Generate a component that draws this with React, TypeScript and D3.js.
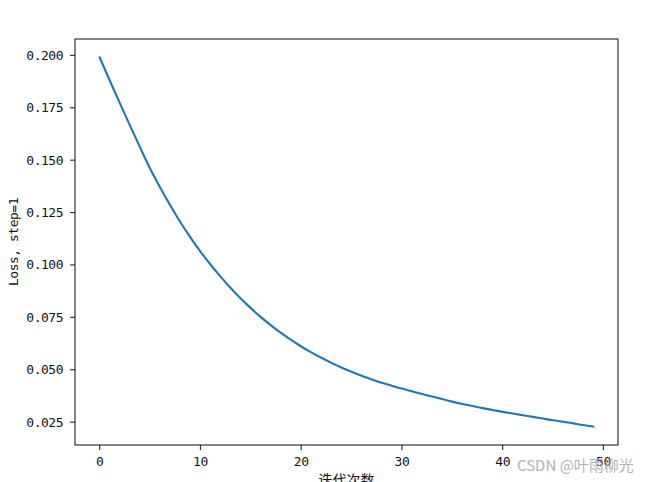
import React from "react";
import * as d3 from "d3";

const iterations: number[] = Array.from({ length: 50 }, (_, i) => i);
const lossValues: number[] = [
  0.199, 0.188, 0.1772, 0.1666, 0.1562, 0.146, 0.137, 0.1285, 0.1205, 0.1132,
  0.1064, 0.1002, 0.0944, 0.089, 0.084, 0.0794, 0.0751, 0.0712, 0.0676, 0.0642,
  0.0611, 0.0583, 0.0557, 0.0533, 0.0511, 0.049, 0.0471, 0.0454, 0.0438, 0.0424,
  0.041, 0.0397, 0.0384, 0.0372, 0.036, 0.0348, 0.0337, 0.0327, 0.0317, 0.0308,
  0.0299, 0.0291, 0.0283, 0.0275, 0.0267, 0.0259, 0.0252, 0.0244, 0.0236, 0.0229,
];
const xTicks: number[] = [0, 10, 20, 30, 40, 50];
const yTicks: number[] = [0.025, 0.05, 0.075, 0.1, 0.125, 0.15, 0.175, 0.2];
const xLabel = "迭代次数";
const yLabel = "Loss, step=1";
const watermark = "CSDN @叶雨柳光";

const W = 650;
const H = 482;
const L = 75;
const R = 618;
const T = 39;
const B = 445;

export default function App() {
  const xMin = d3.min(iterations)!;
  const xMax = d3.max(iterations)!;
  const xPad = (xMax - xMin) * 0.05;
  const x = d3.scaleLinear().domain([xMin - xPad, xMax + xPad]).range([L, R]);
  const [yMin, yMax] = d3.extent(lossValues) as [number, number];
  const yPad = (yMax - yMin) * 0.05;
  const y = d3.scaleLinear().domain([yMin - yPad, yMax + yPad]).range([B, T]);

  const line = d3
    .line<number>()
    .x((_, i) => x(iterations[i]))
    .y((d) => y(d))
    .curve(d3.curveMonotoneX);

  const tickFont = "'DejaVu Sans Mono', monospace";
  const tickLen = 4.9;

  return (
    <svg
      width={W}
      height={H}
      style={{ position: "absolute", left: 0, top: 0, background: "#fff" }}
    >
      <rect x={0} y={0} width={W} height={H} fill="#fff" />
      <path
        d={line(lossValues) || ""}
        fill="none"
        stroke="#1f77b4"
        strokeWidth={2.1}
        strokeLinejoin="round"
        strokeLinecap="square"
      />
      <rect
        x={L}
        y={T}
        width={R - L}
        height={B - T}
        fill="none"
        stroke="#222"
        strokeWidth={1.1}
      />
      {xTicks.map((t) => (
        <g key={"x" + t}>
          <line x1={x(t)} x2={x(t)} y1={B} y2={B + tickLen} stroke="#222" strokeWidth={1.1} />
          <text
            x={x(t)}
            y={466}
            textAnchor="middle"
            fontFamily={tickFont}
            fontSize={13}
            letterSpacing={-0.5}
            fill="#111"
          >
            {t}
          </text>
        </g>
      ))}
      {yTicks.map((t) => (
        <g key={"y" + t}>
          <line x1={L - tickLen} x2={L} y1={y(t)} y2={y(t)} stroke="#222" strokeWidth={1.1} />
          <text
            x={63}
            y={y(t) + 4.5}
            textAnchor="end"
            fontFamily={tickFont}
            fontSize={13}
            letterSpacing={-0.5}
            fill="#111"
          >
            {d3.format(".3f")(t)}
          </text>
        </g>
      ))}
      <text
        transform={`translate(18, ${(T + B) / 2}) rotate(-90)`}
        textAnchor="middle"
        fontFamily={tickFont}
        fontSize={13}
        letterSpacing={-0.5}
        fill="#111"
      >
        {yLabel}
      </text>
      <text
        x={(L + R) / 2}
        y={485}
        textAnchor="middle"
        fontFamily="'Noto Sans CJK SC', sans-serif"
        fontSize={14}
        fill="#111"
      >
        {xLabel}
      </text>
      <text
        x={517}
        y={471}
        fontFamily="'Noto Sans CJK SC', 'Noto Sans', sans-serif"
        fontSize={15}
        fill="#aaaaaa"
        opacity={0.9}
      >
        {watermark}
      </text>
    </svg>
  );
}
